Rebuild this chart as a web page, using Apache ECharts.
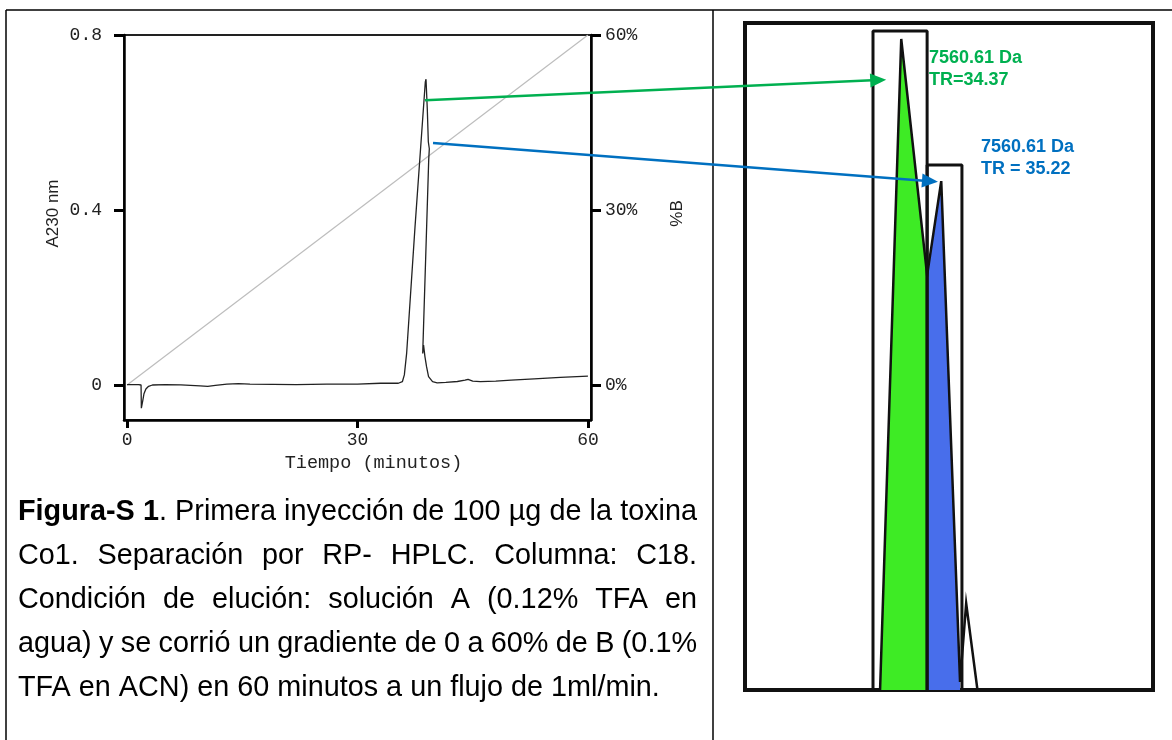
<!DOCTYPE html>
<html><head><meta charset="utf-8">
<script src="https://cdn.jsdelivr.net/npm/echarts@6/dist/echarts.min.js"></script>
<style>html,body{margin:0;padding:0;background:#fff}#c{width:1172px;height:740px}</style>
</head><body><div id="c"></div>
<script>
// ---- Main chromatogram: A230 nm vs time (min) ----
const traceTime = [0, 1.5, 1.82, 1.86, 1.95, 2.05, 2.2, 2.45, 2.8, 3.3, 5, 7, 9.5, 10.5, 11.5, 13, 14.5, 16, 19, 22, 26, 30, 33, 35, 35.32,
  35.84, 36.1, 36.4, 37.49, 38.57, 38.83, 38.92, 39.09, 39.22, 39.35, 39.27, 38.49, 38.6, 38.78, 38.99, 39.25, 39.77, 40.37,
  41.5, 43, 44, 44.4, 45, 46, 48, 50, 53, 56.4, 60];
const traceAbs = [0.001, 0.001, 0.0, -0.053, -0.052, -0.035, -0.020, -0.009, -0.003, 0.0, 0.001, 0.0005, -0.002, -0.003, -0.001, 0.002, 0.003, 0.002, 0.0015, 0.001, 0.002, 0.002, 0.004, 0.004, 0.004,
  0.0075, 0.023, 0.073, 0.362, 0.629, 0.693, 0.699, 0.629, 0.556, 0.540, 0.514, 0.072, 0.091, 0.065, 0.042, 0.019, 0.0075, 0.005,
  0.006, 0.008, 0.011, 0.013, 0.009, 0.0075, 0.009, 0.011, 0.014, 0.0175, 0.0205];
// ---- Gradient %B ----
const gradientTime = [0, 60];
const gradientB = [0, 60];
// ---- Tick labels ----
const timeTicks = [0, 30, 60];
const absTicks = [0, 0.4, 0.8];
const bTicks = [0, 30, 60];
// ---- Zoomed peak view (relative signal) ----
const zoomTime = [33.92, 34.37, 34.92, 35.22, 35.62, 35.75, 35.99];
const zoomSignal = [0, 0.976, 0.622, 0.763, 0.012, 0.130, 0];
const fractionStart = [33.77, 34.92];
const fractionEnd = [34.92, 35.66];
const fractionTop = [0.988, 0.787];
const peakMass = ['7560.61 Da', '7560.61 Da'];
const peakTR = ['TR=34.37', 'TR = 35.22'];
const peakColors = ['#00B050', '#0070C0'];
// arrow anchors: [time, abs] on main chart -> [time, signal] on zoomed view
const arrowFrom = [[38.79, 0.651], [39.83, 0.553]];
const arrowTo = [[34.05, 0.915], [35.15, 0.762]];
// ---- Caption ----
const captionLines = [
  [['Figura-S 1', true], ['. Primera inyección de 100 µg de la toxina', false]],
  [['Co1. Separación por RP- HPLC. Columna: C18.', false]],
  [['Condición de elución: solución A (0.12% TFA en', false]],
  [['agua) y se corrió un gradiente de 0 a 60% de B (0.1%', false]],
  [['TFA en ACN) en 60 minutos a un flujo de 1ml/min.', false]]
];

const monoFont = '"Liberation Mono", "DejaVu Sans Mono", monospace';
const chart = echarts.init(document.getElementById('c'));

const tracePts = traceTime.map((t, i) => [t, traceAbs[i]]);
const gradPts = gradientTime.map((t, i) => [t, gradientB[i]]);
const zoomPts = zoomTime.map((t, i) => [t, zoomSignal[i]]);
const greenArea = zoomPts.slice(0, 3).concat([[zoomTime[2], 0]]);
const blueArea = [[zoomTime[2], 0]].concat(zoomPts.slice(2, 5));
const fracSeries = fractionStart.map((s, i) => ({
  type: 'line', xAxisIndex: 1, yAxisIndex: 2, showSymbol: false, silent: true, z: 4,
  data: [[s, 0], [s, fractionTop[i]], [fractionEnd[i], fractionTop[i]], [fractionEnd[i], 0]],
  lineStyle: { color: '#111', width: 3 }
}));

const option = {
  backgroundColor: '#fff',
  animation: false,
  grid: [
    { left: 124, right: 581, top: 35, bottom: 320, show: true, borderColor: '#222', borderWidth: 2 },
    { left: 745, right: 19, top: 23, bottom: 50, show: true, borderColor: '#111', borderWidth: 4 }
  ],
  xAxis: [
    { type: 'value', gridIndex: 0, min: -0.4, max: 60.4,
      name: 'Tiempo (minutos)', nameLocation: 'middle', nameGap: 28,
      nameTextStyle: { fontFamily: monoFont, fontSize: 18.5, color: '#222', padding: [0, 0, 0, 32] },
      axisLine: { onZero: false, lineStyle: { color: '#000', width: 2.5 } },
      axisTick: { customValues: timeTicks, length: 8, lineStyle: { color: '#000', width: 3 } },
      axisLabel: { customValues: timeTicks, margin: 11, fontFamily: monoFont, fontSize: 18, color: '#222' },
      splitLine: { show: false } },
    { type: 'value', gridIndex: 1, min: 31.05, max: 39.72, show: false }
  ],
  yAxis: [
    { type: 'value', gridIndex: 0, min: -0.08, max: 0.8, position: 'left',
      name: 'A230 nm', nameLocation: 'middle', nameGap: 62, nameRotate: 90,
      nameTextStyle: { fontFamily: '"Liberation Sans Narrow", "Liberation Sans", sans-serif', fontSize: 17, color: '#222', padding: [0, 0, 0, 28] },
      axisLine: { show: true, onZero: false, lineStyle: { color: '#000', width: 2.5 } },
      axisTick: { show: true, customValues: absTicks, length: 10, lineStyle: { color: '#000', width: 3 } },
      axisLabel: { customValues: absTicks, margin: 22, fontFamily: monoFont, fontSize: 18, color: '#222' },
      splitLine: { show: false } },
    { type: 'value', gridIndex: 0, min: -6, max: 60, position: 'right',
      name: '%B', nameLocation: 'middle', nameGap: 78, nameRotate: 90,
      nameTextStyle: { fontFamily: '"Liberation Sans Narrow", "Liberation Sans", sans-serif', fontSize: 17, color: '#222', padding: [0, 0, 0, 28] },
      axisLine: { show: true, onZero: false, lineStyle: { color: '#000', width: 2.5 } },
      axisTick: { show: true, customValues: bTicks, length: 10, lineStyle: { color: '#000', width: 3 } },
      axisLabel: { customValues: bTicks, margin: 14, formatter: '{value}%', fontFamily: monoFont, fontSize: 18, color: '#222' },
      splitLine: { show: false } },
    { type: 'value', gridIndex: 1, min: 0, max: 1, show: false }
  ],
  series: [
    { name: '%B', type: 'line', xAxisIndex: 0, yAxisIndex: 1, data: gradPts, showSymbol: false, silent: true, z: 1,
      lineStyle: { color: '#bdbdbd', width: 1.2 } },
    { name: 'A230', type: 'line', xAxisIndex: 0, yAxisIndex: 0, data: tracePts, showSymbol: false, silent: true, z: 2,
      lineStyle: { color: '#222', width: 1.3 } },
    { name: 'pico1', type: 'line', xAxisIndex: 1, yAxisIndex: 2, data: greenArea, showSymbol: false, silent: true, z: 2,
      lineStyle: { width: 0 }, areaStyle: { color: '#3EEB25', opacity: 1 } },
    { name: 'pico2', type: 'line', xAxisIndex: 1, yAxisIndex: 2, data: blueArea, showSymbol: false, silent: true, z: 2,
      lineStyle: { width: 0 }, areaStyle: { color: '#486EEB', opacity: 1 } },
    { name: 'perfil', type: 'line', xAxisIndex: 1, yAxisIndex: 2, data: zoomPts, showSymbol: false, silent: true, z: 3,
      lineStyle: { color: '#111', width: 2.5, join: 'miter' } }
  ].concat(fracSeries)
};
chart.setOption(option);

// ---- graphic overlay: table borders, labels, arrows, caption ----
const g = [];
g.push({ type: 'line', shape: { x1: 6, y1: 10, x2: 1172, y2: 10 }, style: { stroke: '#000', lineWidth: 1.5 } });
g.push({ type: 'line', shape: { x1: 6, y1: 10, x2: 6, y2: 740 }, style: { stroke: '#000', lineWidth: 1.5 } });
g.push({ type: 'line', shape: { x1: 713, y1: 10, x2: 713, y2: 740 }, style: { stroke: '#000', lineWidth: 1.5 } });

// peak labels
const labelPos = [[929, 58], [981, 147]];
peakMass.forEach((m, i) => {
  [m, peakTR[i]].forEach((txt, k) => {
    g.push({ type: 'text', x: labelPos[i][0], y: labelPos[i][1] + k * 22, z: 20,
      style: { text: txt, fill: peakColors[i], font: 'bold 18px "Liberation Sans", Arial, sans-serif',
        textAlign: 'left', textVerticalAlign: 'middle', verticalAlign: 'middle' } });
  });
});

// arrows
function arrow(p0, p1, color) {
  const dx = p1[0] - p0[0], dy = p1[1] - p0[1], L = Math.hypot(dx, dy), ux = dx / L, uy = dy / L;
  const hl = 16, hw = 7;
  const bx = p1[0] - ux * hl, by = p1[1] - uy * hl;
  return [
    { type: 'line', z: 30, shape: { x1: p0[0], y1: p0[1], x2: bx + ux * 2, y2: by + uy * 2 }, style: { stroke: color, lineWidth: 2.6 } },
    { type: 'polygon', z: 30, shape: { points: [[p1[0], p1[1]], [bx - uy * hw, by + ux * hw], [bx + uy * hw, by - ux * hw]] }, style: { fill: color } }
  ];
}
arrowFrom.forEach((a, i) => {
  const p0 = chart.convertToPixel({ xAxisIndex: 0, yAxisIndex: 0 }, a);
  const p1 = chart.convertToPixel({ xAxisIndex: 1, yAxisIndex: 2 }, arrowTo[i]);
  arrow(p0, p1, peakColors[i]).forEach(e => g.push(e));
});

// caption, justified (last line left-aligned)
const capFont = 28.8, capLeft = 18, capRight = 697, capY = [512, 556, 600, 644, 688];
const ctx = document.createElement('canvas').getContext('2d');
const fontOf = b => (b ? 'bold ' : '') + capFont + 'px "Liberation Sans", Arial, sans-serif';
function measure(t, b) { ctx.font = fontOf(b); return ctx.measureText(t).width; }
captionLines.forEach((runs, li) => {
  const words = [];
  let cur = [];
  runs.forEach(([txt, b]) => {
    let buf = '';
    for (const ch of txt) {
      if (ch === ' ') {
        if (buf) { cur.push([buf, b]); buf = ''; }
        if (cur.length) { words.push(cur); cur = []; }
      } else buf += ch;
    }
    if (buf) cur.push([buf, b]);
  });
  if (cur.length) words.push(cur);
  const widths = words.map(w => w.reduce((s, [t, b]) => s + measure(t, b), 0));
  const total = widths.reduce((a, b) => a + b, 0);
  const natGap = measure(' ', false);
  const last = li === captionLines.length - 1;
  let gap = last ? natGap : (capRight - capLeft - total) / (words.length - 1);
  if (gap < natGap * 0.5) gap = natGap * 0.5;
  let x = capLeft;
  words.forEach((w) => {
    w.forEach(([t, b]) => {
      g.push({ type: 'text', x: x, y: capY[li], z: 20,
        style: { text: t, font: fontOf(b), fill: '#000', textAlign: 'left', textVerticalAlign: 'middle', verticalAlign: 'middle' } });
      x += measure(t, b);
    });
    x += gap;
  });
});

chart.setOption({ graphic: g });
</script></body></html>
